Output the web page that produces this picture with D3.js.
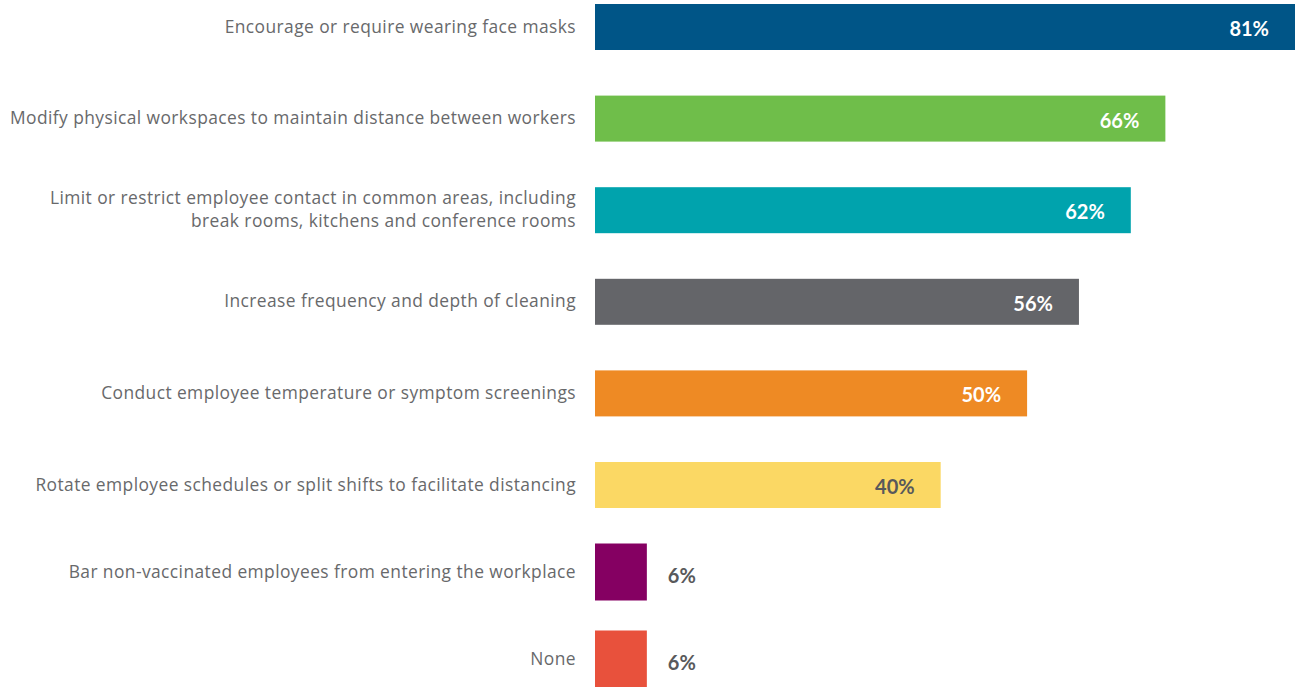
<!DOCTYPE html>
<html>
<head>
<meta charset="utf-8">
<script src="https://cdn.jsdelivr.net/npm/d3@7"></script>
<style>
  body { margin: 0; background: #fff; }
  svg { display: block; }
</style>
</head>
<body>
<svg class="chart" width="1295" height="687"></svg>
<script>
// data
let categories = [
  'Encourage or require wearing face masks',
  'Modify physical workspaces to maintain distance between workers',
  'Limit or restrict employee contact in common areas, including|break rooms, kitchens and conference rooms',
  'Increase frequency and depth of cleaning',
  'Conduct employee temperature or symptom screenings',
  'Rotate employee schedules or split shifts to facilitate distancing',
  'Bar non-vaccinated employees from entering the workplace',
  'None'
]
let values = [81, 66, 62, 56, 50, 40, 6, 6]
let colors = ['#005587', '#6fbe4a', '#00a3ad', '#646569', '#ee8a24', '#fbd864', '#850062', '#e8513c']

let data = categories.map((c, i) => ({ label: c, value: values[i], color: colors[i], idx: i }))

let svg = d3.select('.chart')

// scales
let x = d3.scaleLinear().domain([0, 81]).range([595, 1295])
// rows are evenly spaced, the two short bars sit a bit closer together
let y = d3.scaleLinear().domain([0, 5, 7]).range([27, 485, 659])

let textGrey = '#68696b'

let barH = d => d.value < 10 ? 57 : 46

let rows = svg.selectAll('.row')
  .data(data)
  .enter()
  .append('g')
  .attr('class', 'row')

rows.append('rect')
  .attr('x', x(0))
  .attr('y', d => y(d.idx) - barH(d) / 2)
  .attr('width', d => x(d.value) - x(0))
  .attr('height', barH)
  .attr('fill', d => d.color)

// category labels on the left
rows.append('text')
  .attr('x', 576)
  .attr('y', d => y(d.idx))
  .attr('text-anchor', 'end')
  .attr('font-family', '"Open Sans", sans-serif')
  .attr('font-size', 17.4)
  .attr('letter-spacing', 0.42)
  .attr('fill', textGrey)
  .each(function (d) {
    let lines = d.label.split('|')
    let t = d3.select(this)
    lines.forEach((line, i) => {
      t.append('tspan')
        .attr('x', 576)
        .attr('dy', i === 0 ? (lines.length > 1 ? '-0.33em' : '0.32em') : '1.3em')
        .text(line)
    })
  })

// value labels
rows.append('text')
  .attr('x', d => d.value < 10 ? x(d.value) + 21 : x(d.value) - 26)
  .attr('y', d => y(d.idx) + (d.value < 10 ? 11 : 9))
  .attr('text-anchor', d => d.value < 10 ? 'start' : 'end')
  .attr('font-family', 'Lato, sans-serif')
  .attr('font-weight', 'bold')
  .attr('font-size', 20)
  .attr('fill', d => (d.value < 10 || d.color === '#fbd864') ? '#58595b' : '#fff')
  .text(d => d.value + '%')
</script>
</body>
</html>
